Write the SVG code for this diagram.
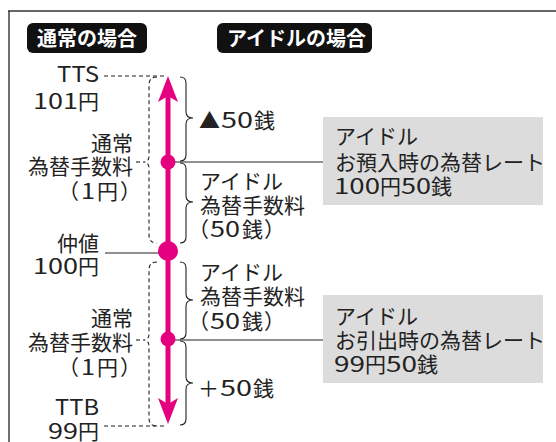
<svg xmlns="http://www.w3.org/2000/svg" width="556" height="442" viewBox="0 0 556 442">
<style>
text{font-family:"Noto Sans CJK JP","Noto Sans",sans-serif;fill:#222;font-size:21px;font-weight:400}
.hd{fill:#fff;font-weight:700;font-size:20px}
.e{text-anchor:end}
.brace{fill:none;stroke:#222;stroke-width:1.1}
.dbrace{fill:none;stroke:#222;stroke-width:1.1;stroke-dasharray:4 3}
.lead{stroke:#222;stroke-width:1.1;fill:none}
.box{fill:#dcdcdc}
.dot{fill:#e4007f}
</style>
<defs>
<marker id="ah" markerUnits="userSpaceOnUse" markerWidth="28" markerHeight="20" refX="13" refY="10" orient="auto" viewBox="0 0 28 20">
<path d="M26,10 L0,0 L6,10 L0,20 Z" fill="#e4007f"/>
</marker>
</defs>
<g id="frame">
<line x1="8" y1="11" x2="556" y2="11" stroke="#333" stroke-width="1.4"/>
<line x1="9" y1="11" x2="9" y2="442" stroke="#333" stroke-width="1.4"/>
</g>
<g id="header-normal">
<rect x="27" y="23" width="120" height="30" rx="6" fill="#111"/>
<text class="hd" x="37" y="46">通常の場合</text>
</g>
<g id="header-idol">
<rect x="217" y="23" width="155" height="30" rx="6" fill="#111"/>
<text class="hd" x="227" y="46">アイドルの場合</text>
</g>
<g id="connectors">
<line x1="168" y1="250" x2="168" y2="89" stroke="#e4007f" stroke-width="5" marker-end="url(#ah)"/>
<line x1="168" y1="250" x2="168" y2="411" stroke="#e4007f" stroke-width="5" marker-end="url(#ah)"/>
<line class="dbrace" x1="104" y1="76" x2="166" y2="76"/>
<line class="dbrace" x1="104" y1="426" x2="166" y2="426"/>
<path class="dbrace" d="M157,77 Q149,77 149,85 L149,156 Q149,162 143,162 Q149,162 149,168 L149,235 Q149,243 157,243"/>
<path class="dbrace" d="M157,262 Q149,262 149,270 L149,334 Q149,340 143,340 Q149,340 149,346 L149,418 Q149,426 157,426"/>
<line class="dbrace" x1="136" y1="162" x2="142" y2="162"/>
<line class="dbrace" x1="136" y1="340" x2="142" y2="340"/>
<path class="brace" d="M180,77 Q186,77 186,83 L186,112 Q186,118 193,118 Q186,118 186,124 L186,155 Q186,161 180,161"/>
<path class="brace" d="M180,163 Q186,163 186,169 L186,196 Q186,202 193,202 Q186,202 186,208 L186,237 Q186,243 180,243"/>
<path class="brace" d="M180,262 Q186,262 186,268 L186,294 Q186,300 193,300 Q186,300 186,306 L186,333 Q186,339 180,339"/>
<path class="brace" d="M180,341 Q186,341 186,347 L186,377 Q186,383 193,383 Q186,383 186,389 L186,419 Q186,425 180,425"/>
<line class="lead" x1="105" y1="253" x2="162" y2="253"/>
<line class="lead" x1="172" y1="162" x2="323" y2="162"/>
<line class="lead" x1="172" y1="340" x2="323" y2="340"/>
</g>
<g id="dots">
<circle class="dot" cx="168" cy="162" r="7.5"/>
<circle class="dot" cx="168" cy="251" r="10"/>
<circle class="dot" cx="168" cy="339" r="7.5"/>
</g>
<g id="tts">
<text class="e" x="99" y="82" textLength="42" lengthAdjust="spacingAndGlyphs">TTS</text>
<text class="e" x="99" y="109"><tspan textLength="45" lengthAdjust="spacingAndGlyphs">101</tspan>円</text>
</g>
<g id="normal-fee-top">
<text class="e" x="133" y="151">通常</text>
<text class="e" x="133" y="174">為替手数料</text>
<text class="e" x="141" y="199">（<tspan dx="2" textLength="14" lengthAdjust="spacingAndGlyphs">1</tspan><tspan dx="2">円</tspan><tspan dx="2">）</tspan></text>
</g>
<g id="mid">
<text class="e" x="99" y="251">仲値</text>
<text class="e" x="99" y="274"><tspan textLength="45" lengthAdjust="spacingAndGlyphs">100</tspan>円</text>
</g>
<g id="normal-fee-bottom">
<text class="e" x="133" y="326">通常</text>
<text class="e" x="133" y="350">為替手数料</text>
<text class="e" x="141" y="375">（<tspan dx="2" textLength="14" lengthAdjust="spacingAndGlyphs">1</tspan><tspan dx="2">円</tspan><tspan dx="2">）</tspan></text>
</g>
<g id="ttb">
<text class="e" x="99" y="415" textLength="44" lengthAdjust="spacingAndGlyphs">TTB</text>
<text class="e" x="99" y="439"><tspan textLength="30" lengthAdjust="spacingAndGlyphs">99</tspan>円</text>
</g>
<g id="minus50">
<text x="199" y="128">▲<tspan dx="1" textLength="32" lengthAdjust="spacingAndGlyphs">50</tspan><tspan dx="1">銭</tspan></text>
</g>
<g id="idol-fee-top">
<text x="200" y="189">アイドル</text>
<text x="200" y="213">為替手数料</text>
<text x="188" y="237">（<tspan dx="1" textLength="30" lengthAdjust="spacingAndGlyphs">50</tspan><tspan dx="2">銭</tspan><tspan dx="1">）</tspan></text>
</g>
<g id="idol-fee-bottom">
<text x="200" y="280">アイドル</text>
<text x="200" y="304">為替手数料</text>
<text x="188" y="329">（<tspan dx="1" textLength="30" lengthAdjust="spacingAndGlyphs">50</tspan><tspan dx="2">銭</tspan><tspan dx="1">）</tspan></text>
</g>
<g id="plus50">
<text x="198" y="396">＋<tspan dx="1" textLength="32" lengthAdjust="spacingAndGlyphs">50</tspan><tspan dx="1">銭</tspan></text>
</g>
<g id="box-deposit">
<rect class="box" x="323" y="117" width="220" height="88"/>
<text x="335" y="144">アイドル</text>
<text x="335" y="170">お預入時の為替レート</text>
<text x="334" y="194"><tspan textLength="46" lengthAdjust="spacingAndGlyphs">100</tspan>円<tspan textLength="30" lengthAdjust="spacingAndGlyphs">50</tspan>銭</text>
</g>
<g id="box-withdraw">
<rect class="box" x="323" y="295" width="220" height="88"/>
<text x="335" y="324">アイドル</text>
<text x="335" y="348">お引出時の為替レート</text>
<text x="334" y="372"><tspan textLength="31" lengthAdjust="spacingAndGlyphs">99</tspan>円<tspan textLength="31" lengthAdjust="spacingAndGlyphs">50</tspan>銭</text>
</g>
</svg>
